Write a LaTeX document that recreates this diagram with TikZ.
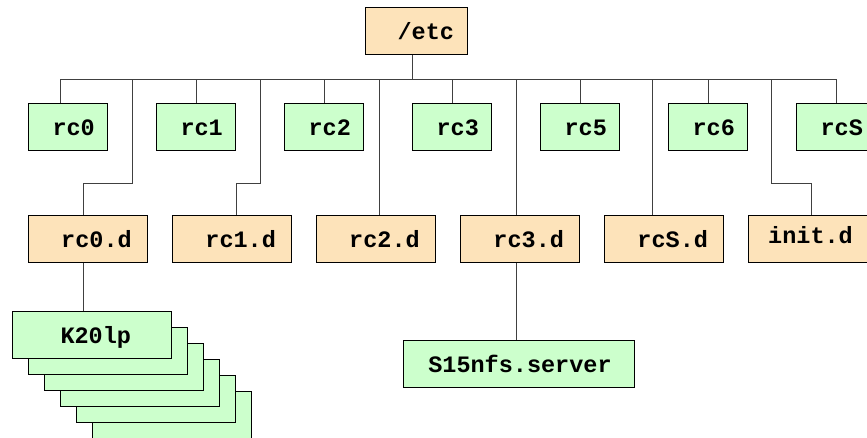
\documentclass[tikz,border=0pt]{standalone}
\usepackage{fontspec}
\setmonofont{Liberation Mono}
\usepackage{tikz}
\usetikzlibrary{positioning,calc}
\definecolor{dirfill}{HTML}{FDE3BA}
\definecolor{filefill}{HTML}{CCFFCC}
\definecolor{wirecol}{HTML}{404040}

\begin{document}
\begin{tikzpicture}[
    x=1pt, y=-1pt,
    font=\fontsize{23.5}{28}\selectfont\ttfamily\bfseries,
    pad/.style={execute at begin node={\hspace*{#1}}},
    dir/.style={rectangle, draw=black, line width=1pt, fill=dirfill, inner sep=0pt, minimum width=119pt, minimum height=46.6pt, text height=17pt, text depth=0pt},
    rl/.style={rectangle, draw=black, line width=1pt, fill=filefill, inner sep=0pt, minimum width=79.4pt, minimum height=47.4pt, text height=17pt, text depth=0pt, pad=11.4pt},
    file/.style={rectangle, draw=black, line width=1pt, fill=filefill, inner sep=0pt, minimum height=46.6pt, text height=17pt, text depth=0pt},
    wire/.style={draw=wirecol, line width=1pt}
]
\useasboundingbox (0,0) rectangle (867,437);
\clip (0,0) rectangle (867,437);

% Top directory
\node[dir, minimum width=102pt, pad=19.6pt] (etc) at (416,30.7) {/etc};

% Run level directories
\node[rl] (rc0) at (68,127) {rc0};
\node[rl] (rc1) at (196,127) {rc1};
\node[rl] (rc2) at (324,127) {rc2};
\node[rl] (rc3) at (452,127) {rc3};
\node[rl] (rc5) at (580,127) {rc5};
\node[rl] (rc6) at (708,127) {rc6};
\node[rl] (rcS) at (836,127) {rcS};

% Script directories
\node[dir, pad=17.4pt] (rc0d) at (87.8,239) {rc0.d};
\node[dir, pad=17.4pt] (rc1d) at (232,239) {rc1.d};
\node[dir, pad=17.4pt] (rc2d) at (375.8,239) {rc2.d};
\node[dir, pad=17.4pt] (rc3d) at (520,239) {rc3.d};
\node[dir, pad=17.4pt] (rcSd) at (664,239) {rcS.d};
\node[dir, pad=5.6pt, text height=8.6pt] (initd) at (807.7,239) {init.d};

% Scripts
\foreach \i in {5,4,3,2,1}
    \node[file, minimum width=159.4pt] (k\i) at ({92+16*\i},{335+16*\i}) {};
\node[file, minimum width=159.4pt, pad=7.6pt] (k20lp) at (92,335) {K20lp};
\node[file, minimum width=231pt, pad=3pt] (s15) at (518.5,363.8) {S15nfs.server};

% Bus
\coordinate (bus) at (0,79);
\coordinate (top) at ([xshift=-4pt]etc.south);
\coordinate (r0) at ([xshift=-8pt]rc0.north);
\draw[wire] (top) -- (top |- bus);
\draw[wire] (r0 |- bus) -- (rcS.north |- bus);
\draw[wire] (r0 |- bus) -- (r0);
\foreach \n in {rc1,rc2,rc3,rc5,rc6,rcS}
    \draw[wire] (\n.north |- bus) -- (\n.north);

% Drops to script directories
\coordinate (j0) at (132.3,79);
\coordinate (j1) at (260.3,79);
\coordinate (j6) at (771.7,79);
\draw[wire] (j0) -- ++(0,104) -| ([xshift=-4pt]rc0d.north);
\draw[wire] (j1) -- ++(0,104) -| ([xshift=4pt]rc1d.north);
\draw[wire] ([xshift=4pt]rc2d.north) -- ([xshift=4pt]rc2d.north |- bus);
\draw[wire] ([xshift=-4pt]rc3d.north) -- ([xshift=-4pt]rc3d.north |- bus);
\draw[wire] ([xshift=-12pt]rcSd.north) -- ([xshift=-12pt]rcSd.north |- bus);
\draw[wire] (j6) -- ++(0,104) -| ([xshift=4pt]initd.north);

% Links to scripts
\draw[wire] ([xshift=-4pt]rc0d.south) -- ([xshift=-4pt]rc0d.south |- k20lp.north);
\draw[wire] ([xshift=-4pt]rc3d.south) -- ([xshift=-4pt]rc3d.south |- s15.north);

\end{tikzpicture}
\end{document}
